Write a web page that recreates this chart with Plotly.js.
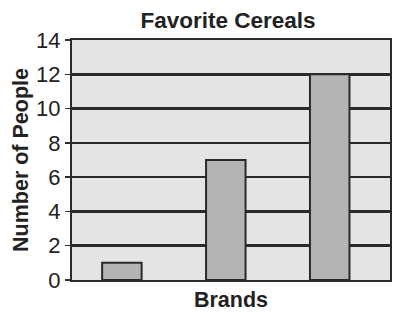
<!DOCTYPE html>
<html>
<head>
<meta charset="utf-8">
<script src="https://cdn.plot.ly/plotly-3.0.1.min.js"></script>
<style>html,body{margin:0;padding:0;background:#fff;}#chart{width:393px;height:312px;}</style>
</head>
<body>
<div id="chart"></div>
<script>
var brands = ["Brand A", "Brand B", "Brand C"];
var people = [1, 7, 12];
var yTicks = [0, 2, 4, 6, 8, 10, 12, 14];

var font = "Arial, 'Liberation Sans', Helvetica, sans-serif";
var trace = {
  type: "bar",
  x: brands,
  y: people,
  width: 0.38,
  marker: {color: "#b4b4b4", line: {color: "#2a2a2a", width: 2}},
  hoverinfo: "none"
};
var layout = {
  width: 393, height: 312,
  margin: {l: 72, r: 3, t: 40, b: 32, pad: 0},
  paper_bgcolor: "#ffffff",
  plot_bgcolor: "#e4e4e4",
  showlegend: false,
  title: {text: "<b>Favorite Cereals</b>", font: {family: font, size: 22.5, color: "#222"}, x: 0.58, xanchor: "center", y: 0.935, yanchor: "middle"},
  xaxis: {
    type: "category",
    range: [-0.48, 2.58],
    showticklabels: false,
    ticks: "",
    showgrid: false,
    zeroline: false,
    showline: true, mirror: true, linecolor: "#2a2a2a", linewidth: 2,
    title: {text: "<b>Brands</b>", font: {family: font, size: 21.5, color: "#222"}, standoff: 14}
  },
  yaxis: {
    range: [0, 14],
    tickvals: yTicks,
    ticktext: yTicks.map(String),
    ticks: "outside", ticklen: 5, tickcolor: "#2a2a2a", tickwidth: 1.5,
    tickfont: {family: font, size: 22, color: "#222"},
    showgrid: true, gridcolor: "#2a2a2a", gridwidth: 2.5,
    zeroline: false,
    showline: true, mirror: true, linecolor: "#2a2a2a", linewidth: 2,
    title: {text: "<b>Number of People</b>", font: {family: font, size: 21.5, color: "#222"}, standoff: 2}
  }
};
Plotly.newPlot("chart", [trace], layout, {staticPlot: true, displayModeBar: false});
</script>
</body>
</html>
